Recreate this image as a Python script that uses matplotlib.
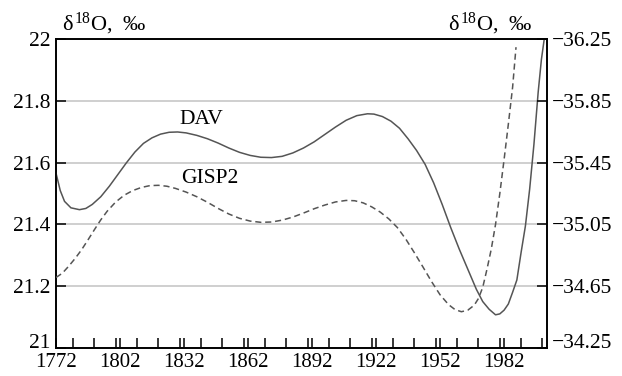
import matplotlib
matplotlib.use("Agg")
import matplotlib.pyplot as plt
from matplotlib.ticker import MultipleLocator
from matplotlib.transforms import ScaledTranslation

plt.rcParams['font.family'] = 'serif'
plt.rcParams['font.serif'] = ['Liberation Serif', 'DejaVu Serif']
plt.rcParams['mathtext.fontset'] = 'custom'
plt.rcParams['mathtext.rm'] = 'Liberation Serif'
plt.rcParams['mathtext.it'] = 'Liberation Serif'

# DAV, left scale (per mil)
dav_years = [1772, 1774, 1776, 1779, 1783, 1786, 1789, 1793, 1797, 1801,
             1805, 1809, 1813, 1817, 1821, 1825, 1829, 1833, 1838, 1843,
             1848, 1853, 1858, 1863, 1868, 1873, 1878, 1883, 1888, 1893,
             1898, 1903, 1908, 1913, 1918, 1921, 1925, 1929, 1933, 1937,
             1941, 1945, 1949, 1953, 1957, 1961, 1965, 1969, 1972, 1975,
             1978, 1980, 1982, 1984, 1986, 1988, 1990, 1992, 1994, 1996,
             1998, 1999.5, 2000.8]
dav_vals = [21.567, 21.510, 21.475, 21.454, 21.448, 21.452, 21.465, 21.490, 21.524, 21.562,
            21.600, 21.635, 21.663, 21.681, 21.693, 21.699, 21.700, 21.697, 21.689, 21.678,
            21.664, 21.648, 21.634, 21.624, 21.618, 21.617, 21.621, 21.632, 21.648, 21.668,
            21.692, 21.716, 21.738, 21.753, 21.759, 21.758, 21.750, 21.735, 21.712, 21.678,
            21.640, 21.595, 21.535, 21.465, 21.390, 21.320, 21.255, 21.190, 21.150, 21.125,
            21.107, 21.110, 21.122, 21.142, 21.180, 21.220, 21.310, 21.395, 21.515, 21.660,
            21.830, 21.935, 22.0]

# GISP2, right scale (per mil)
gisp_years = [1772, 1775, 1778, 1781, 1784, 1787, 1790, 1793, 1796, 1800,
              1804, 1808, 1812, 1816, 1820, 1824, 1828, 1833, 1838, 1843,
              1848, 1853, 1858, 1863, 1868, 1873, 1878, 1883, 1888, 1893,
              1898, 1903, 1908, 1912, 1916, 1920, 1924, 1928, 1932, 1936,
              1940, 1944, 1948, 1952, 1956, 1959, 1962, 1965, 1968, 1970,
              1972, 1974, 1976, 1978, 1980, 1982, 1984, 1986, 1987.6]
gisp_vals = [-34.706, -34.734, -34.780, -34.830, -34.886, -34.950, -35.016, -35.080, -35.136, -35.196,
             -35.240, -35.270, -35.290, -35.302, -35.304, -35.298, -35.284, -35.260, -35.230, -35.194,
             -35.154, -35.118, -35.090, -35.072, -35.064, -35.066, -35.078, -35.098, -35.124, -35.152,
             -35.176, -35.196, -35.206, -35.204, -35.190, -35.164, -35.130, -35.086, -35.030, -34.954,
             -34.866, -34.774, -34.680, -34.594, -34.530, -34.498, -34.484, -34.494, -34.526, -34.570,
             -34.642, -34.760, -34.890, -35.050, -35.250, -35.470, -35.700, -35.940, -36.200]

left_ticks = [21, 21.2, 21.4, 21.6, 21.8, 22]
left_labels = ["21", "21.2", "21.4", "21.6", "21.8", "22"]
right_ticks = [-34.25, -34.65, -35.05, -35.45, -35.85, -36.25]
year_labels = [1772, 1802, 1832, 1862, 1892, 1922, 1952, 1982]

line_col = "#555555"
fs = 15.5
header = r"$\delta^{18}$O,  ‰"

fig = plt.figure(figsize=(6.22, 3.76), dpi=100)
ax = fig.add_axes([0.090, 0.075, 0.789, 0.820])
ax.plot(dav_years, dav_vals, color=line_col, lw=1.1, zorder=3)
ax.set_xlim(1772, 2002)
ax.set_ylim(21, 22)
ax.set_yticks(left_ticks)
ax.set_yticklabels(left_labels)
ax.set_xticks(year_labels)
ax.set_xticklabels([str(y) for y in year_labels])
ax.xaxis.set_minor_locator(MultipleLocator(10))
ax.grid(axis='y', color='#cccccc', lw=1.3, zorder=0)
ax.tick_params(axis='both', which='both', direction='in', length=7, width=1.1,
               labelsize=fs, colors='black')
ax.tick_params(axis='x', pad=4, labelsize=15)
ax.tick_params(axis='y', pad=4)
for s in ax.spines.values():
    s.set_linewidth(1.2)
ax.text(1840.3, 21.739, "DAV", fontsize=fs, ha='center', va='center')
ax.text(1844, 21.548, "GISP2", fontsize=fs, ha='center', va='center')
ax.text(0.013, 1.008, header, transform=ax.transAxes,
        fontsize=16, ha='left', va='bottom')
ax.text(0.971, 1.008, header, transform=ax.transAxes,
        fontsize=16, ha='right', va='bottom')

ax2 = ax.twinx()
ax2.plot(gisp_years, gisp_vals, color=line_col, lw=1.1, dashes=(4, 2.5), zorder=3)
ax2.set_ylim(-34.25, -36.25)
ax2.set_yticks(right_ticks)
ax2.set_yticklabels(["\u2212%.2f" % abs(v) for v in right_ticks])
ax2.tick_params(axis='y', direction='in', length=7, width=1.1, labelsize=fs, pad=4)
for s in ax2.spines.values():
    s.set_linewidth(1.2)

# bottom labels on both y axes sit a little higher, clear of the year labels
lift = ScaledTranslation(0, 4.8 / 72, fig.dpi_scale_trans)
for lbl in (ax.get_yticklabels()[0], ax2.get_yticklabels()[0]):
    lbl.set_transform(lbl.get_transform() + lift)

fig.savefig("out.png", dpi=100)
